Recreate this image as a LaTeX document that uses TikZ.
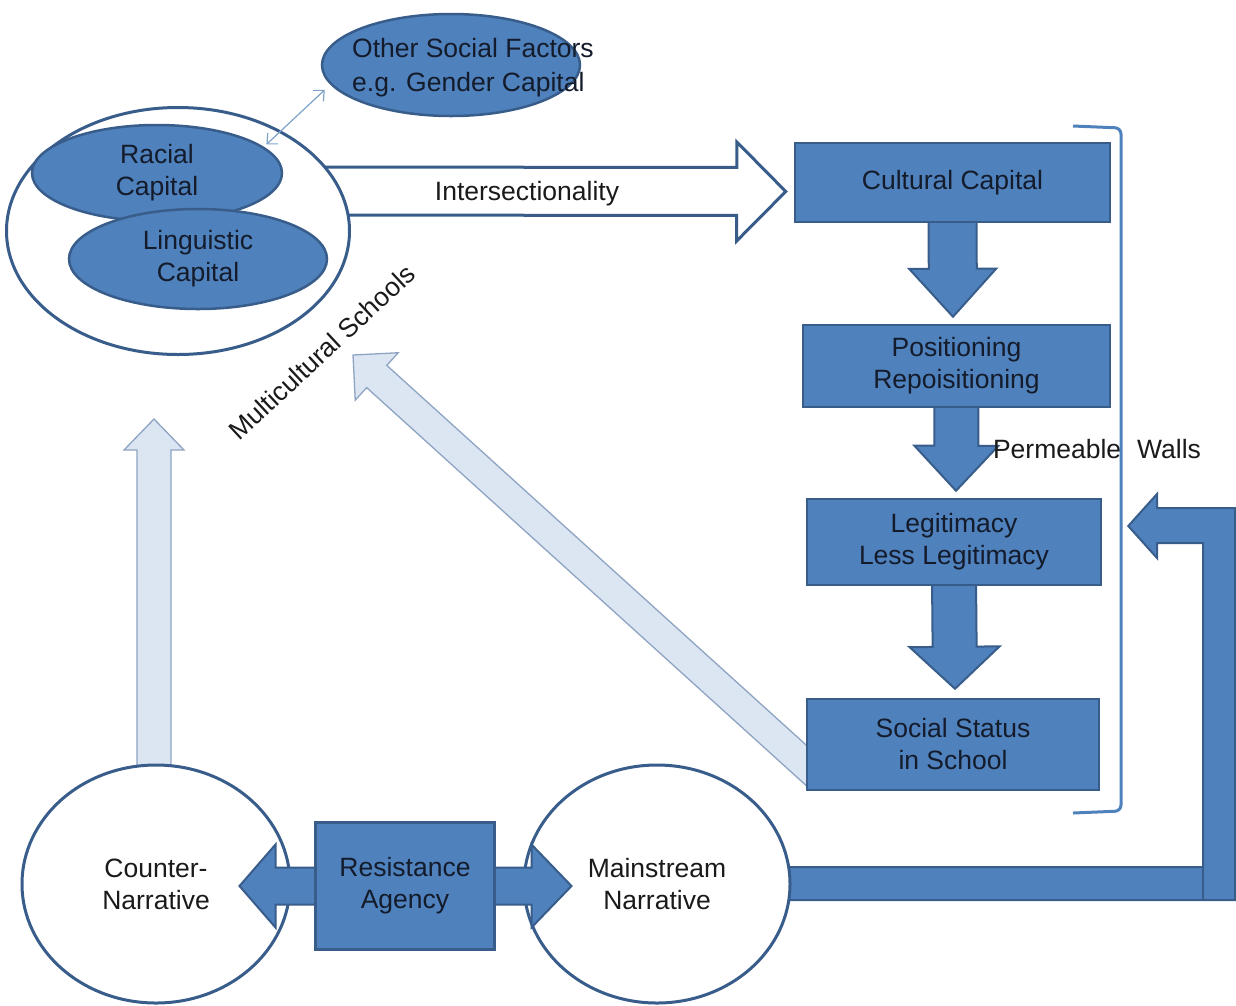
\documentclass[tikz,border=0pt]{standalone}
\usepackage{fontspec}
\setmainfont{Liberation Sans}
\usetikzlibrary{calc,shapes.geometric,arrows.meta}

\definecolor{boxfill}{HTML}{4F81BD}
\definecolor{boxline}{HTML}{385D8A}
\definecolor{palefill}{HTML}{DCE6F2}
\definecolor{paleline}{HTML}{8EA4C2}
\definecolor{linkline}{HTML}{7FA2CB}
\definecolor{inktext}{HTML}{141B2B}
\definecolor{plaintext}{HTML}{1A1A1A}

\pgfdeclarelayer{bg}
\pgfdeclarelayer{mid}
\pgfsetlayers{bg,mid,main}

% Block arrow from #2 (tail) to #3 (tip):
% #4 shaft half-width, #5 head half-width, #6 head length
\newcommand\fatarrow[6][]{%
  \coordinate (fatbase) at ($(#3)!#6!(#2)$);
  \draw[#1] ($(#2)!#4!90:(#3)$) -- ($(fatbase)!#4!-90:(#2)$)
    -- ($(fatbase)!#5!-90:(#2)$) -- (#3) -- ($(fatbase)!#5!90:(#2)$)
    -- ($(fatbase)!#4!90:(#2)$) -- ($(#2)!#4!-90:(#3)$) -- cycle;}

\begin{document}
\begin{tikzpicture}[x=1pt,y=-1pt,
  every node/.style={font=\fontsize{26.5}{32}\selectfont, align=center, inner sep=0pt, text=plaintext},
  bluebox/.style={rectangle, draw=boxline, fill=boxfill, line width=2.5pt, text=inktext},
  blueoval/.style={ellipse, draw=boxline, fill=boxfill, line width=2.5pt, text=inktext},
  whiteoval/.style={ellipse, draw=boxline, fill=white, line width=3pt},
  bluearrow/.style={draw=boxline, fill=boxfill, line width=2pt, line join=miter},
  palearrow/.style={draw=paleline, fill=palefill, line width=1.3pt, line join=miter},
  hollowarrow/.style={draw=boxline, fill=white, line width=3pt, line join=miter},
  thinlink/.style={draw=linkline, line width=1.2pt, {Straight Barb[length=8pt,width=15pt]}-{Straight Barb[length=8pt,width=15pt]}},
  wallline/.style={draw=boxfill, line width=3pt, rounded corners=6pt},
]
\begin{pgfonlayer}{bg}
  \fill[white] (0,0) rectangle (1236,1005);
\end{pgfonlayer}
\useasboundingbox (0,0) rectangle (1236,1005);

% ---- capitals cluster ----
\node[whiteoval, minimum width=343pt, minimum height=247pt] (capset) at (178,231) {};
\node[blueoval, minimum width=250pt, minimum height=96pt] (racial) at (157,173) {Racial\\Capital};
\node[blueoval, minimum width=258pt, minimum height=100pt] (ling) at (198,259) {Linguistic\\Capital};
\node[blueoval, minimum width=258pt, minimum height=102pt] (other) at (451,65) {};
\node[anchor=west, align=left, text=inktext, font=\fontsize{26.5}{34}\selectfont] (othertxt) at (352,68)
  {Other Social Factors\\e.g. Gender Capital};
\draw[thinlink] ($(racial.14)+(3,-2)$) -- ($(other.191)+(-9,2)$);

% ---- school flow ----
\node[bluebox, minimum width=315pt, minimum height=79pt] (cult) at (952.5,182.5) {Cultural Capital};
\node[bluebox, minimum width=307pt, minimum height=82pt] (pos) at (956.5,366) {Positioning\\Repoisitioning};
\node[bluebox, minimum width=294pt, minimum height=86pt] (legit) at (954,542) {Legitimacy\\Less Legitimacy};
\node[bluebox, minimum width=292pt, minimum height=91pt] (status) at (953,744.5) {Social Status\\in School};

% ---- narratives ----
\begin{pgfonlayer}{mid}
  \node[whiteoval, minimum width=268pt, minimum height=238pt] (counter) at (156,884) {Counter-\\Narrative};
  \node[whiteoval, minimum width=266pt, minimum height=238pt] (mainstream) at (657,884) {Mainstream\\Narrative};
\end{pgfonlayer}

% ---- free ends of the block arrows ----
\coordinate (intail) at ($(capset.center)+(100,-40)$);
\coordinate (intip) at ($(cult.west)+(-8,9)$);
\coordinate (a1tail) at ($(cult.south)+(0,-8)$);
\coordinate (a1tip) at ($(pos.north)+(-3.5,-7)$);
\coordinate (a2tail) at ($(pos.south)+(0,-8)$);
\coordinate (a2tip) at ($(legit.north)+(2,-7)$);
\coordinate (a3tail) at ($(legit.south)+(0,-8)$);
\coordinate (a3tip) at ($(status.north)+(2,-9)$);
\coordinate (uptail) at ($(counter.center)+(-2,0)$);
\coordinate (uptip) at ($(counter.center)+(-2,-465)$);
\coordinate (diagtail) at ($(status.west)+(40,56.6)$);
\coordinate (diagtip) at ($(capset.center)+(175,124)$);
\coordinate (fbtip) at ($(legit.east)+(26,-16)$);
\coordinate (resL) at ($(counter.east)+(-52,2)$);
\coordinate (resR) at ($(mainstream.west)+(49,2)$);

\begin{pgfonlayer}{bg}
  \fatarrow[hollowarrow]{intail}{intip}{24pt}{49.5pt}{49pt}
  \fatarrow[bluearrow]{a1tail}{a1tip}{24pt}{43.5pt}{48pt}
  \fatarrow[bluearrow]{a2tail}{a2tip}{22pt}{42pt}{45pt}
  \fatarrow[bluearrow]{a3tail}{a3tip}{22pt}{45pt}{42pt}
  \fatarrow[palearrow]{uptail}{uptip}{17pt}{30pt}{31pt}
  \begin{scope}
    \clip (0,0) rectangle ($(status.west)+(3,300)$);
    \fatarrow[palearrow]{diagtail}{diagtip}{15pt}{32pt}{32pt}
  \end{scope}
  % feedback from the mainstream narrative back to the walls
  \draw[bluearrow] ($(mainstream.center)+(0,-17)$) -- (1203,867) -- (1203,543) -- (1157,543)
    -- (1157,558) -- (fbtip) -- (1157,494) -- (1157,508) -- (1235,508) -- (1235,900)
    -- ($(mainstream.center)+(0,16)$) -- cycle;
  \draw[boxline, line width=2pt] (1203,867) -- (1203,900);
\end{pgfonlayer}

% ---- resistance / agency ----
\draw[bluearrow] (resL) -- ++(36,-41.5) -- ++(0,23) -- ($(resR)+(-40,-18.5)$) -- ++(0,-23)
  -- (resR) -- ++(-40,41.5) -- ++(0,-23) -- ($(resL)+(36,18.5)$) -- ++(0,23) -- cycle;
\node[bluebox, minimum width=179pt, minimum height=127pt] (res) at (405,886) {Resistance\\Agency};

% ---- labels ----
\node (inter) at (527,194) {Intersectionality};
\node[rotate=43] (multi) at (322,352) {Multicultural Schools};
\node (perm) at (1097,449) {Permeable\hspace{16pt}Walls};

% ---- permeable walls bracket ----
\draw[wallline] (1073,126) -- (1121,128) -- (1121,811) -- (1073,813);
\end{tikzpicture}
\end{document}
